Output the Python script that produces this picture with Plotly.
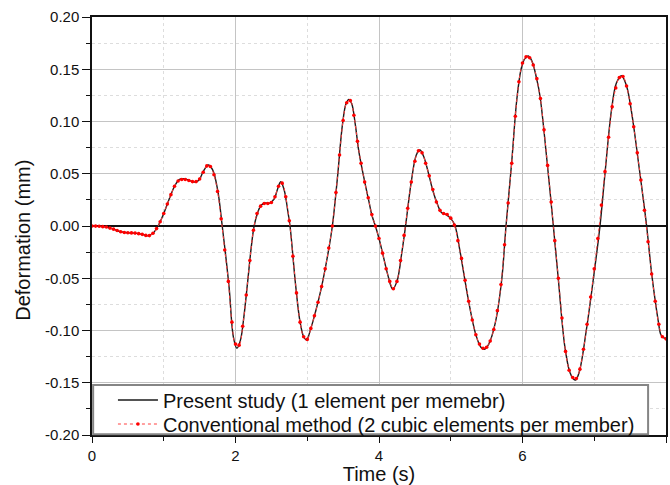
import plotly.graph_objects as go

# Present study (key points)
t_present = [0.0, 0.1, 0.2, 0.3, 0.4, 0.5, 0.6, 0.7, 0.78, 0.85, 0.92, 1.0, 1.08, 1.15, 1.22, 1.3,
             1.38, 1.45, 1.5, 1.55, 1.62, 1.68, 1.75, 1.815, 1.91, 1.97, 2.02, 2.07, 2.12, 2.17,
             2.22, 2.26, 2.31, 2.36, 2.42, 2.47, 2.54, 2.58, 2.63, 2.68, 2.73, 2.76, 2.84, 2.9,
             2.95, 2.99, 3.05, 3.11, 3.16, 3.21, 3.29, 3.35, 3.42, 3.49, 3.54, 3.58, 3.62, 3.67,
             3.72, 3.815, 3.86, 3.9, 3.95, 4.0, 4.05, 4.12, 4.19, 4.25, 4.32, 4.37, 4.45, 4.52,
             4.57, 4.62, 4.69, 4.75, 4.81, 4.87, 4.93, 5.0, 5.06, 5.13, 5.25, 5.35, 5.42, 5.47,
             5.53, 5.62, 5.71, 5.77, 5.85, 5.92, 5.98, 6.03, 6.08, 6.13, 6.2, 6.245, 6.34, 6.43,
             6.5, 6.59, 6.66, 6.71, 6.74, 6.79, 6.89, 7.01, 7.08, 7.15, 7.24, 7.31, 7.38, 7.45,
             7.52, 7.63, 7.73, 7.8, 7.89, 7.93, 7.97, 8.0]
v_present = [0.0, -0.0002, -0.001, -0.003, -0.0055, -0.0065, -0.0068, -0.008, -0.0093, -0.007, 0.0,
             0.012, 0.0265, 0.038, 0.0447, 0.045, 0.043, 0.042, 0.045, 0.052, 0.0584, 0.054, 0.035,
             0.0, -0.058, -0.106, -0.117, -0.109, -0.085, -0.053, -0.02, 0.0, 0.013, 0.02, 0.022,
             0.0217, 0.026, 0.034, 0.0424, 0.034, 0.0137, 0.0, -0.058, -0.092, -0.106, -0.109,
             -0.098, -0.0835, -0.07, -0.0548, -0.026, 0.0, 0.0456, 0.0967, 0.117, 0.1212, 0.117,
             0.097, 0.071, 0.0376, 0.0233, 0.0105, 0.0, -0.012, -0.026, -0.046, -0.0603, -0.053,
             -0.0246, 0.0, 0.0424, 0.068, 0.0727, 0.067, 0.0504, 0.034, 0.0217, 0.013, 0.0112,
             0.0073, 0.0, -0.0246, -0.0724, -0.104, -0.116, -0.118, -0.113, -0.093, -0.0517, 0.0,
             0.0615, 0.1206, 0.15, 0.16, 0.1627, 0.158, 0.14, 0.1237, 0.0632, 0.0, -0.0517,
             -0.1155, -0.14, -0.1465, -0.1474, -0.14, -0.0995, -0.0388, 0.0, 0.0504, 0.111, 0.137,
             0.1438, 0.134, 0.109, 0.0536, 0.0, -0.0453, -0.09, -0.1043, -0.107, -0.1075]

# Conventional method (red dotted with markers), sampled every 0.05 s
t_conv = [round(i * 0.05, 2) for i in range(161)]
v_conv = [0.0, -0.0001, -0.0002, -0.0006, -0.001, -0.002, -0.003, -0.0043, -0.0055, -0.0062,
          -0.0065, -0.0066, -0.0068, -0.0073, -0.008, -0.009, -0.0092, -0.007, -0.0025, 0.004,
          0.012, 0.021, 0.03, 0.038, 0.043, 0.0445, 0.0445, 0.0435, 0.0425, 0.0425,
          0.045, 0.0515, 0.0575, 0.057, 0.049, 0.033, 0.007, -0.023, -0.053, -0.092,
          -0.113, -0.114, -0.096, -0.066, -0.033, -0.004, 0.012, 0.019, 0.0215, 0.0215,
          0.0225, 0.028, 0.038, 0.041, 0.028, 0.005, -0.029, -0.064, -0.092, -0.106,
          -0.1085, -0.098, -0.086, -0.073, -0.058, -0.041, -0.021, 0.0, 0.032, 0.068,
          0.101, 0.118, 0.12, 0.106, 0.081, 0.06, 0.042, 0.027, 0.011, 0.0,
          -0.012, -0.026, -0.041, -0.053, -0.06, -0.053, -0.033, -0.009, 0.017, 0.042,
          0.062, 0.072, 0.07, 0.06, 0.048, 0.035, 0.023, 0.015, 0.012, 0.011,
          0.0075, 0.001, -0.014, -0.031, -0.052, -0.072, -0.09, -0.104, -0.113, -0.117,
          -0.116, -0.11, -0.099, -0.081, -0.056, -0.018, 0.022, 0.06, 0.105, 0.138,
          0.156, 0.162, 0.161, 0.154, 0.141, 0.122, 0.092, 0.058, 0.023, -0.014,
          -0.05, -0.088, -0.12, -0.138, -0.145, -0.146, -0.137, -0.118, -0.094, -0.068,
          -0.041, -0.012, 0.02, 0.052, 0.085, 0.114, 0.132, 0.142, 0.143, 0.134,
          0.117, 0.095, 0.07, 0.044, 0.015, -0.015, -0.046, -0.072, -0.094, -0.106,
          -0.108]

x_ticks = [0, 2, 4, 6, 8]
y_ticks = [-0.20, -0.15, -0.10, -0.05, 0.00, 0.05, 0.10, 0.15, 0.20]

FONT = "Arial, Liberation Sans, sans-serif"

fig = go.Figure()
fig.add_trace(go.Scatter(
    x=t_present, y=v_present, mode="lines", line=dict(color="#1a1a1a", width=1.4, shape="spline"),
    name="Present study (1 element per memebr)", legend="legend"))
fig.add_trace(go.Scatter(
    x=t_conv, y=v_conv, mode="lines+markers",
    line=dict(color="#ff4040", width=1, dash="dot", shape="spline"),
    marker=dict(color="#ff0000", size=3.6),
    name="Conventional method (2 cubic elements per member)", legend="legend2"))

# legend frame
fig.add_shape(type="rect", xref="paper", yref="paper", x0=0.002, x1=0.9688, y0=0.002, y1=0.1196,
              fillcolor="white", line=dict(color="#858585", width=2), layer="above")

leg_common = dict(xanchor="left", yanchor="middle", bgcolor="rgba(0,0,0,0)", borderwidth=0,
                  font=dict(size=20, family=FONT, color="#111111"), itemwidth=40)

fig.update_layout(
    width=670, height=485,
    margin=dict(l=92, r=2, t=17, b=50),
    paper_bgcolor="white", plot_bgcolor="white",
    font=dict(family=FONT, size=15, color="#111111"),
    showlegend=True,
    legend=dict(x=0.0365, y=0.0837, **leg_common),
    legend2=dict(x=0.0365, y=0.0263, **leg_common),
    annotations=[dict(text="Deformation (mm)", xref="paper", yref="paper", x=-0.12, y=0.465,
                      xanchor="center", yanchor="middle", textangle=-90, showarrow=False,
                      font=dict(size=20, family=FONT, color="#111111"))],
)
fig.update_xaxes(
    range=[0, 8], tickvals=x_ticks, ticktext=[str(v) for v in x_ticks],
    showline=True, linecolor="#111111", linewidth=1.5, mirror=True,
    ticks="outside", ticklen=6, tickwidth=1.2, tickcolor="#111111",
    showgrid=True, gridcolor="#c4c4c4", gridwidth=1, zeroline=False,
    minor=dict(tickvals=[1, 3, 5, 7], ticks="outside", ticklen=4, tickcolor="#111111",
               showgrid=True, gridcolor="#dddddd", griddash="dot", gridwidth=1),
    title=dict(text="Time (s)", font=dict(size=20, family=FONT), standoff=5),
    tickfont=dict(size=15),
)
fig.update_yaxes(
    range=[-0.20, 0.20], tickvals=y_ticks, ticktext=[f"{v:.2f}" for v in y_ticks],
    showline=True, linecolor="#111111", linewidth=1.5, mirror=True,
    ticks="outside", ticklen=8, tickwidth=1.2, tickcolor="#111111",
    showgrid=True, gridcolor="#c4c4c4", gridwidth=1,
    zeroline=True, zerolinecolor="#111111", zerolinewidth=1.5,
    minor=dict(dtick=0.025, tick0=0.025, ticks="outside", ticklen=4, tickcolor="#111111",
               showgrid=True, gridcolor="#dddddd", griddash="dot", gridwidth=1),
    tickfont=dict(size=15),
)

fig.write_html("out.html")
